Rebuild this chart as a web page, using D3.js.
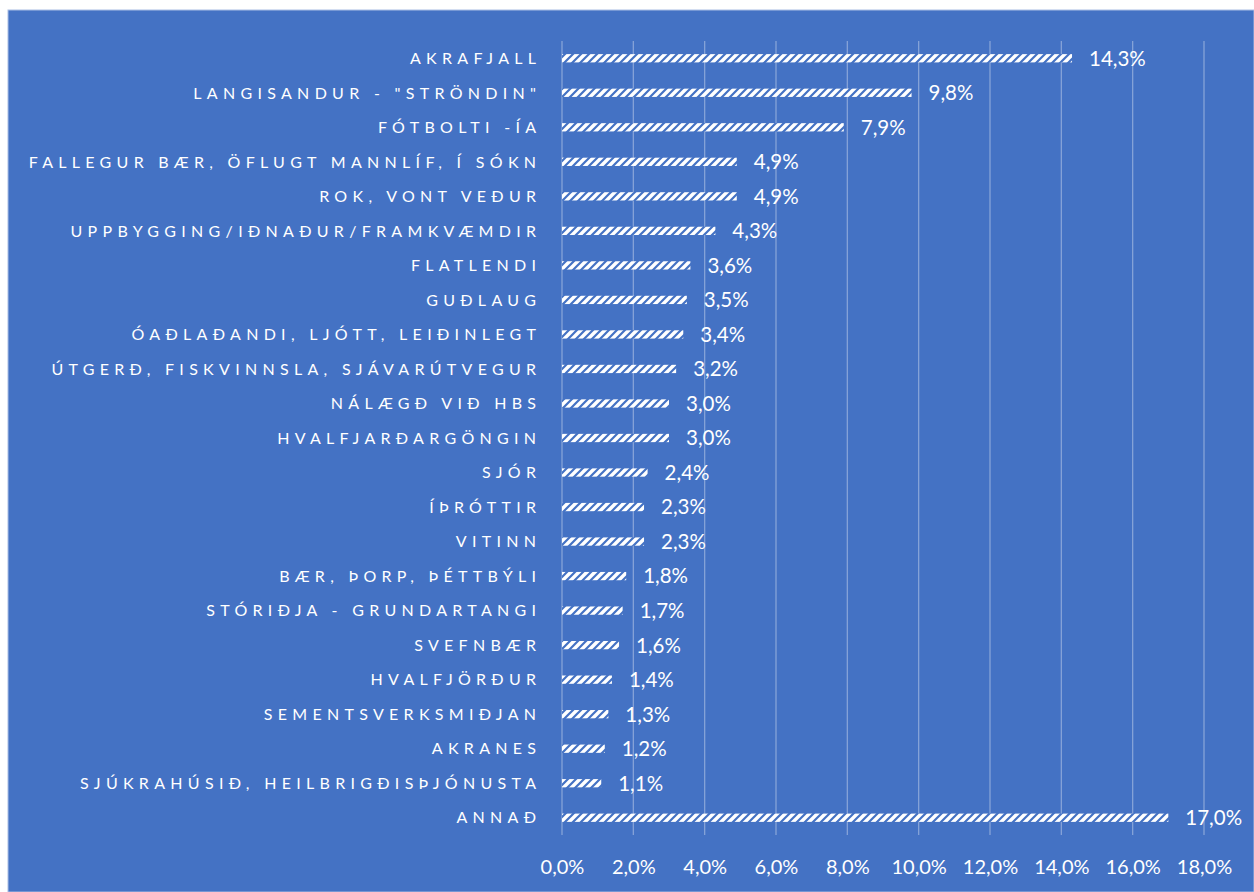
<!DOCTYPE html>
<html>
<head>
    <meta charset="utf-8">
    <script src="https://cdn.jsdelivr.net/npm/d3@7"></script>
    <style>
        * { margin: 0; padding: 0; }
        body { background: #ffffff; }
        svg { display: block; font-family: Lato, "Open Sans", sans-serif; }
    </style>
</head>
<body>
    <svg id="chart" width="1254" height="892"></svg>
    <script>
        var categories = [
            "AKRAFJALL",
            "LANGISANDUR - \"STRÖNDIN\"",
            "FÓTBOLTI -ÍA",
            "FALLEGUR BÆR, ÖFLUGT MANNLÍF, Í SÓKN",
            "ROK, VONT VEÐUR",
            "UPPBYGGING/IÐNAÐUR/FRAMKVÆMDIR",
            "FLATLENDI",
            "GUÐLAUG",
            "ÓAÐLAÐANDI, LJÓTT, LEIÐINLEGT",
            "ÚTGERÐ, FISKVINNSLA, SJÁVARÚTVEGUR",
            "NÁLÆGÐ VIÐ HBS",
            "HVALFJARÐARGÖNGIN",
            "SJÓR",
            "ÍÞRÓTTIR",
            "VITINN",
            "BÆR, ÞORP, ÞÉTTBÝLI",
            "STÓRIÐJA - GRUNDARTANGI",
            "SVEFNBÆR",
            "HVALFJÖRÐUR",
            "SEMENTSVERKSMIÐJAN",
            "AKRANES",
            "SJÚKRAHÚSIÐ, HEILBRIGÐISÞJÓNUSTA",
            "ANNAÐ"
        ];
        var values = [14.3, 9.8, 7.9, 4.9, 4.9, 4.3, 3.6, 3.5, 3.4, 3.2, 3.0, 3.0,
                      2.4, 2.3, 2.3, 1.8, 1.7, 1.6, 1.4, 1.3, 1.2, 1.1, 17.0];
        var ticks = [0, 2, 4, 6, 8, 10, 12, 14, 16, 18];

        var data = categories.map(function (c, i) { return { name: c, value: values[i] }; });
        var fmt = function (v) { return v.toFixed(1).replace(".", ",") + "%"; };

        var blue = "#4472c4";
        var margin = { top: 41, left: 562 },
            width = 1204 - 562,
            height = 835 - 41;

        var svg = d3.select("#chart");

        svg.append("rect")
            .attr("x", 8).attr("y", 10)
            .attr("width", 1254 - 8).attr("height", 892 - 10)
            .attr("fill", blue)
            .attr("stroke", "#a9bde3")
            .attr("stroke-width", 1);

        // striped fill for the bars
        var pat = svg.append("defs").append("pattern")
            .attr("id", "stripes")
            .attr("patternUnits", "userSpaceOnUse")
            .attr("width", 8).attr("height", 8);
        pat.append("rect").attr("width", 8).attr("height", 8).attr("fill", "#ffffff");
        pat.append("path")
            .attr("d", "M-2,2 L2,-2 M0,8 L8,0 M6,10 L10,6")
            .attr("stroke", blue)
            .attr("stroke-width", 2.2);

        var g = svg.append("g")
            .attr("transform", "translate(" + margin.left + "," + margin.top + ")");

        var x = d3.scaleLinear().domain([0, 18]).range([0, width]);
        var y = d3.scaleBand()
            .domain(categories)
            .range([0, height])
            .paddingInner(0.76)
            .paddingOuter(0.38);

        // gridlines
        g.selectAll(".grid").data(ticks).enter()
            .append("line")
            .attr("x1", function (d) { return x(d); })
            .attr("x2", function (d) { return x(d); })
            .attr("y1", 0).attr("y2", height)
            .attr("stroke", "#86a3d8")
            .attr("stroke-width", 1.3);

        // x axis labels
        var xAxis = g.append("g")
            .attr("transform", "translate(0," + height + ")")
            .call(d3.axisBottom(x).tickValues(ticks).tickFormat(function (d) { return fmt(d); }).tickSize(0).tickPadding(25));
        xAxis.select(".domain").remove();
        xAxis.selectAll("text")
            .attr("fill", "#ffffff")
            .style("font-size", "20px")
            .style("font-family", "Lato, sans-serif");

        // bars
        g.selectAll(".bar").data(data).enter()
            .append("rect")
            .attr("x", 0)
            .attr("y", function (d) { return y(d.name); })
            .attr("width", function (d) { return x(d.value); })
            .attr("height", y.bandwidth())
            .attr("fill", "url(#stripes)");

        // value labels
        g.selectAll(".val").data(data).enter()
            .append("text")
            .attr("x", function (d) { return x(d.value) + 17; })
            .attr("y", function (d) { return y(d.name) + y.bandwidth() / 2; })
            .attr("dy", "0.36em")
            .attr("fill", "#ffffff")
            .style("font-size", "20.5px")
            .text(function (d) { return fmt(d.value); });

        // category labels
        var spacing = 5.3;
        g.selectAll(".cat").data(data).enter()
            .append("text")
            .attr("x", -26 + spacing)
            .attr("y", function (d) { return y(d.name) + y.bandwidth() / 2; })
            .attr("dy", "0.36em")
            .attr("text-anchor", "end")
            .attr("fill", "#ffffff")
            .style("font-size", "16px")
            .style("letter-spacing", spacing + "px")
            .text(function (d) { return d.name; });
    </script>
</body>
</html>
